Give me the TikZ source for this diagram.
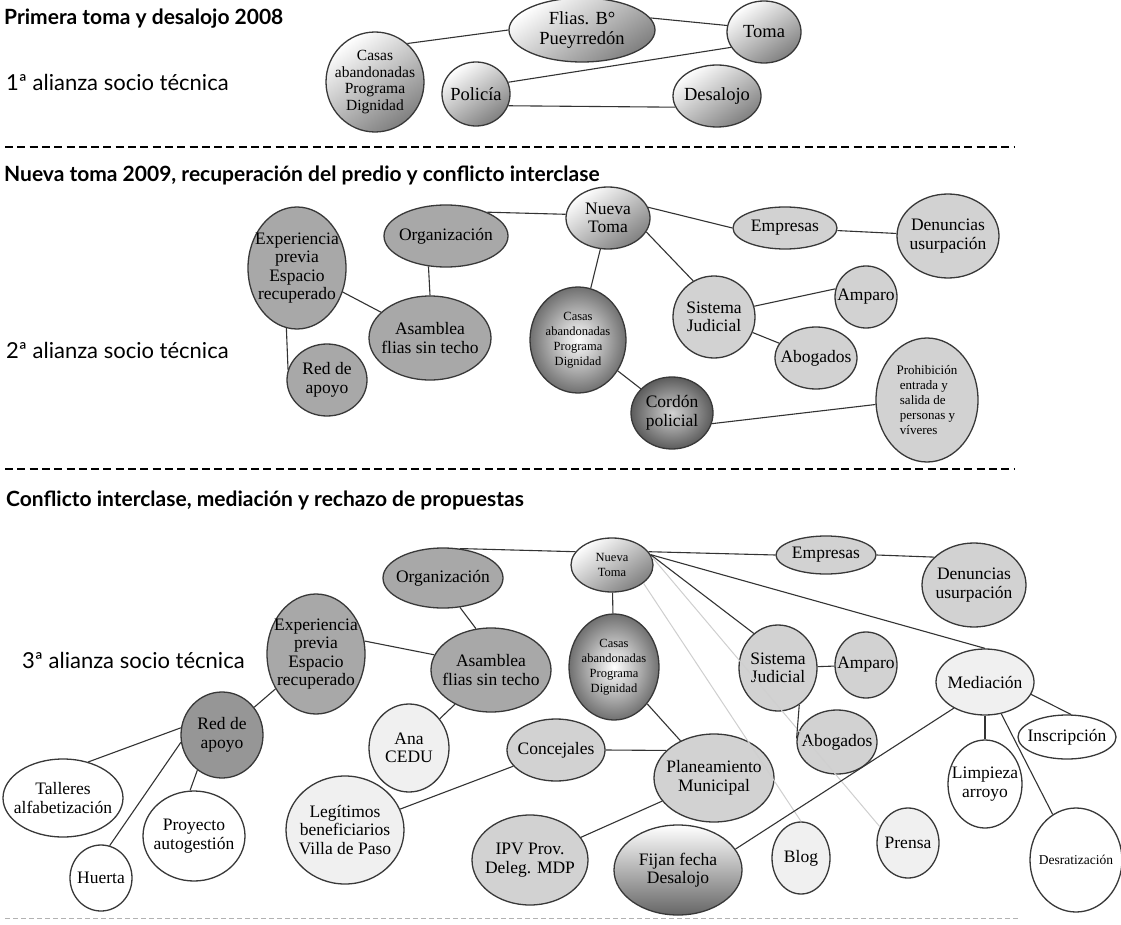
\documentclass[tikz,border=0pt]{standalone}
\usepackage{fontspec}
\setmainfont{Liberation Serif}
\newfontfamily\gillfont{Lato}
\usetikzlibrary{shapes.geometric}

\tikzset{
  bub/.style={ellipse, draw=black!78, line width=1.3pt, inner sep=-8pt, align=center,
    font=\fontsize{17.5}{18.5}\selectfont},
  sz/.style 2 args={minimum width=#1pt, minimum height=#2pt},
  bigtxt/.style={font=\fontsize{18.5}{20}\selectfont},
  smalltxt/.style={font=\fontsize{12.5}{15}\selectfont},
  wfill/.style={fill=white},
  lite/.style={fill=gray!12},
  pale/.style={fill=gray!35},
  mid/.style={fill=gray!68},
  dark/.style={fill=gray!82},
  shiny/.style={top color=white, bottom color=black!50, shading angle=35},
  ball/.style={inner color=white, outer color=black!56},
  deep/.style={inner color=gray!35, outer color=black!64},
  fade/.style={top color=white, bottom color=black!60},
  link/.style={draw=black!80, line width=1.1pt},
  faint/.style={draw=gray!38, line width=1pt},
  head/.style={anchor=west, inner sep=0pt, font=\gillfont\bfseries\fontsize{21}{24}\selectfont},
  lbl/.style={anchor=west, inner sep=0pt, font=\gillfont\fontsize{22}{24}\selectfont},
  sepline/.style={line width=2.4pt, dash pattern=on 8pt off 4.3pt},
  thinsep/.style={draw=gray!60, line width=0.9pt, dash pattern=on 5pt off 3pt}
}

\begin{document}
\begin{tikzpicture}[x=1pt, y=-1pt]
\useasboundingbox[fill=white] (0,0) rectangle (1121,925);

% primera alianza
\node[head] (t_1) at (4,19) {Primera toma y desalojo 2008};
\node[lbl] (l_1) at (6,82) {1ª alianza socio técnica};
\node[bub,shiny,sz={98}{100},font=\fontsize{15.5}{16.5}\selectfont] (a_casas) at (375,82) {Casas\\abandonadas\\Programa\\Dignidad};
\node[bub,shiny,bigtxt,sz={68}{64}] (a_policia) at (476,94) {Policía};
\node[bub,shiny,bigtxt,sz={146}{64}] (a_flias) at (582,30) {Flias. B°\\Pueyrredón};
\node[bub,shiny,bigtxt,sz={74}{62}] (a_toma) at (764,32) {Toma};
\node[bub,shiny,bigtxt,sz={88}{62}] (a_desalojo) at (717,96) {Desalojo};
\path[link]
  (a_casas.50) edge (a_flias.west)
  (a_flias.10) edge (a_toma.170)
  (a_policia.20) edge (a_toma.205)
  (a_policia.-20) edge (a_desalojo.195);

\draw[sepline] (5,147) -- (1015,147);

% segunda alianza
\node[head] (t_2) at (4,175) {Nueva toma 2009, recuperación del predio y conflicto interclase};
\node[lbl] (l_2) at (6,350) {2ª alianza socio técnica};
\node[bub,mid,sz={98}{122}] (b_exp) at (297,268) {Experiencia\\previa\\Espacio\\recuperado};
\node[bub,mid,sz={124}{62}] (b_org) at (446,236) {Organización};
\node[bub,mid,sz={122}{84}] (b_asam) at (430,338) {Asamblea\\flias sin techo};
\node[bub,mid,sz={80}{72}] (b_red) at (327,380) {Red de\\apoyo};
\node[bub,shiny,sz={84}{62}] (b_nt) at (608,218) {Nueva\\Toma};
\node[bub,ball,smalltxt,sz={96}{106}] (b_casas) at (578,340) {Casas\\abandonadas\\Programa\\Dignidad};
\node[bub,deep,sz={82}{72}] (b_cordon) at (672,413) {Cordón\\policial};
\node[bub,pale,sz={104}{42}] (b_emp) at (785,228) {Empresas};
\node[bub,pale,sz={102}{84}] (b_den) at (948,236) {Denuncias\\usurpación};
\node[bub,pale,sz={82}{82}] (b_sj) at (714,317) {Sistema\\Judicial};
\node[bub,pale,sz={62}{62}] (b_amp) at (866,297) {Amparo};
\node[bub,pale,sz={82}{62}] (b_abog) at (816,358) {Abogados};
\node[bub,pale,sz={102}{124},align=left,font=\fontsize{13}{15}\selectfont] (b_proh) at (927,400) {Prohibición\\\ entrada y\\\ salida de\\\ personas y\\\ víveres};
\path[link]
  (b_org.30) edge (b_nt.175)
  (b_org.240) edge (b_asam.north)
  (b_exp) edge (b_asam)
  (b_exp.260) edge (b_red.165)
  (b_nt) edge (b_casas)
  (b_nt.15) edge (b_emp.west)
  (b_emp) edge (b_den)
  (b_nt.-20) edge (b_sj.120)
  (b_sj.15) edge (b_amp.165)
  (b_sj) edge (b_abog)
  (b_casas) edge (b_cordon)
  (b_cordon.-15) edge (b_proh.185);

\draw[sepline] (5,469) -- (1015,469);

% tercera alianza
\node[head] (t_3) at (6,500) {Conflicto interclase, mediación y rechazo de propuestas};
\node[lbl] (l_3) at (22,660) {3ª alianza socio técnica};
\node[bub,shiny,smalltxt,sz={82}{54}] (c_nt) at (612,565) {Nueva\\Toma};
\node[bub,mid,sz={120}{60}] (c_org) at (443,578) {Organización};
\node[bub,mid,sz={98}{120}] (c_exp) at (316,654) {Experiencia\\previa\\Espacio\\recuperado};
\node[bub,mid,sz={120}{84}] (c_asam) at (491,670) {Asamblea\\flias sin techo};
\node[bub,ball,smalltxt,sz={90}{106}] (c_casas) at (614,667) {Casas\\abandonadas\\Programa\\Dignidad};
\node[bub,pale,sz={100}{38}] (c_emp) at (826,555) {Empresas};
\node[bub,pale,sz={104}{84}] (c_den) at (974,585) {Denuncias\\usurpación};
\node[bub,pale,sz={78}{86}] (c_sj) at (778,668) {Sistema\\Judicial};
\node[bub,pale,sz={62}{66}] (c_amp) at (866,665) {Amparo};
\node[bub,lite,sz={98}{66}] (c_med) at (985,682) {Mediación};
\node[bub,wfill,sz={98}{44}] (c_insc) at (1067,737) {Inscripción};
\node[bub,pale,sz={80}{64}] (c_abog) at (837,742) {Abogados};
\node[bub,dark,sz={82}{86}] (c_red) at (222,735) {Red de\\apoyo};
\node[bub,lite,sz={80}{88}] (c_ana) at (409,748) {Ana\\CEDU};
\node[bub,pale,sz={98}{62}] (c_conc) at (556,750) {Concejales};
\node[bub,pale,sz={120}{88}] (c_plan) at (714,778) {Planeamiento\\Municipal};
\node[bub,wfill,sz={120}{78}] (c_tall) at (63,798) {Talleres\\alfabetización};
\node[bub,wfill,sz={102}{90}] (c_proy) at (194,836) {Proyecto\\autogestión};
\node[bub,wfill,sz={62}{66}] (c_huerta) at (101,878) {Huerta};
\node[bub,lite,sz={118}{108}] (c_leg) at (345,830) {Legítimos\\beneficiarios\\Villa de Paso};
\node[bub,pale,sz={116}{90}] (c_ipv) at (530,860) {IPV Prov.\\Deleg. MDP};
\node[bub,fade,sz={128}{90}] (c_fijan) at (678,870) {Fijan fecha\\Desalojo};
\node[bub,lite,sz={58}{72}] (c_blog) at (801,858) {Blog};
\node[bub,lite,sz={62}{70}] (c_prensa) at (908,843) {Prensa};
\node[bub,wfill,sz={74}{88}] (c_limp) at (985,784) {Limpieza\\arroyo};
\node[bub,wfill,font=\fontsize{13.5}{15}\selectfont,sz={92}{104}] (c_desr) at (1076,860) {Desratización};
\path[faint]
  (c_nt.-30) edge (c_blog.north)
  (c_nt.12) edge (c_prensa.150);
\path[link]
  (c_org.60) edge (c_nt.160)
  (c_nt.20) edge (c_emp.west)
  (c_emp.east) edge (c_den.145)
  (c_nt) edge (c_casas)
  (c_nt.15) edge (c_sj.125)
  (c_nt.15) edge (c_med.north)
  (c_sj) edge (c_amp)
  (c_sj.-60) edge (c_abog.175)
  (c_med.-15) edge (c_insc.80)
  (c_med) edge (c_limp)
  (c_med) edge (c_desr)
  (c_med.220) edge (c_fijan.20)
  (c_casas) edge (c_plan)
  (c_conc.east) edge (c_plan.150)
  (c_plan) edge (c_ipv)
  (c_conc) edge (c_leg)
  (c_asam) edge (c_ana)
  (c_org.-60) edge (c_asam.110)
  (c_exp.15) edge (c_asam.165)
  (c_exp) edge (c_red)
  (c_red.170) edge (c_tall.55)
  (c_red.190) edge (c_huerta.75)
  (c_red.235) edge (c_proy.95);

\draw[thinsep] (5,918) -- (1020,918);
\end{tikzpicture}
\end{document}
